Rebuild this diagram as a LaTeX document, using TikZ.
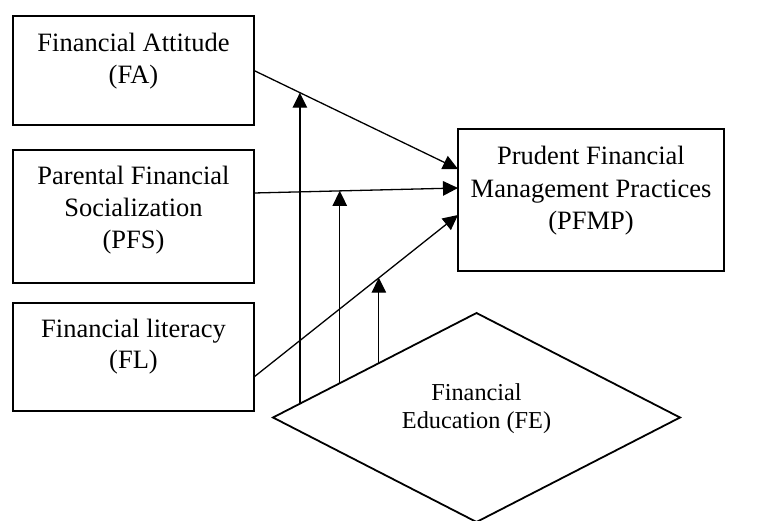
\documentclass[tikz,border=0pt]{standalone}
\usepackage{fontspec}
\setmainfont{Liberation Serif}
\usetikzlibrary{shapes.geometric,arrows.meta}
\begin{document}
\begin{tikzpicture}[x=1pt,y=-1pt,
  box/.style={draw,line width=1.8pt,inner sep=0pt,outer sep=0pt,anchor=north west,
    font=\fontsize{26.5pt}{31.5pt}\selectfont},
  conn/.style={line width=1.3pt,-{Triangle[length=15pt,width=14.5pt]}},
  dia/.style={draw,diamond,line width=1.8pt,minimum width=407pt,minimum height=209pt,
    inner sep=0pt,outer sep=0pt},
  smalltxt/.style={font=\fontsize{24.3pt}{28pt}\selectfont,align=center}]
\useasboundingbox (0,0) rectangle (783,521);
% boxes
\node[box] (fa) at (13,16) {\parbox[t][109pt][t]{241pt}{\centering\rule{0pt}{36pt}Financial Attitude\\(FA)}};
\node[box] (ps) at (13,150) {\parbox[t][133pt][t]{241pt}{\centering\rule{0pt}{35pt}Parental Financial\\Socialization\\(PFS)}};
\node[box] (fl) at (13,303) {\parbox[t][108pt][t]{241pt}{\centering\rule{0pt}{34pt}Financial literacy\\(FL)}};
\node[box,font=\fontsize{26.5pt}{32.5pt}\selectfont] (pf) at (458,129) {\parbox[t][142pt][t]{266pt}{\centering\rule{0pt}{36pt}Prudent Financial\\Management Practices\\(PFMP)}};
% diamond
\node[dia] (fe) at (476.5,417.5) {};
\node[smalltxt] (fetext) at ([yshift=9pt]fe.center) {Financial\\Education (FE)};
% connector end points
\coordinate (a1) at (fa.east);
\coordinate (b1) at ([yshift=31pt]pf.west);
\coordinate (a2) at ([yshift=23.5pt]ps.east);
\coordinate (b2) at ([yshift=12pt]pf.west);
\coordinate (a3) at ([yshift=-20pt]fl.east);
\coordinate (b3) at ([yshift=-15pt]pf.west);
\path (a1) -- (b1) coordinate[pos=0.2255] (m1);
\path (a2) -- (b2) coordinate[pos=0.4216] (m2);
\path (a3) -- (b3) coordinate[pos=0.6127] (m3);
\path (fe.west) -- (fe.north) coordinate[pos=0.132] (e1) coordinate[pos=0.328] (e2) coordinate[pos=0.52] (e3);
% connectors
\draw[conn] (a1) -- (b1);
\draw[conn] (a2) -- (b2);
\draw[conn] (a3) -- (b3);
\draw[conn] (e1) -- (e1 |- m1);
\draw[conn] (e2) -- (e2 |- m2);
\draw[conn] (e3) -- (e3 |- m3);
\end{tikzpicture}
\end{document}
